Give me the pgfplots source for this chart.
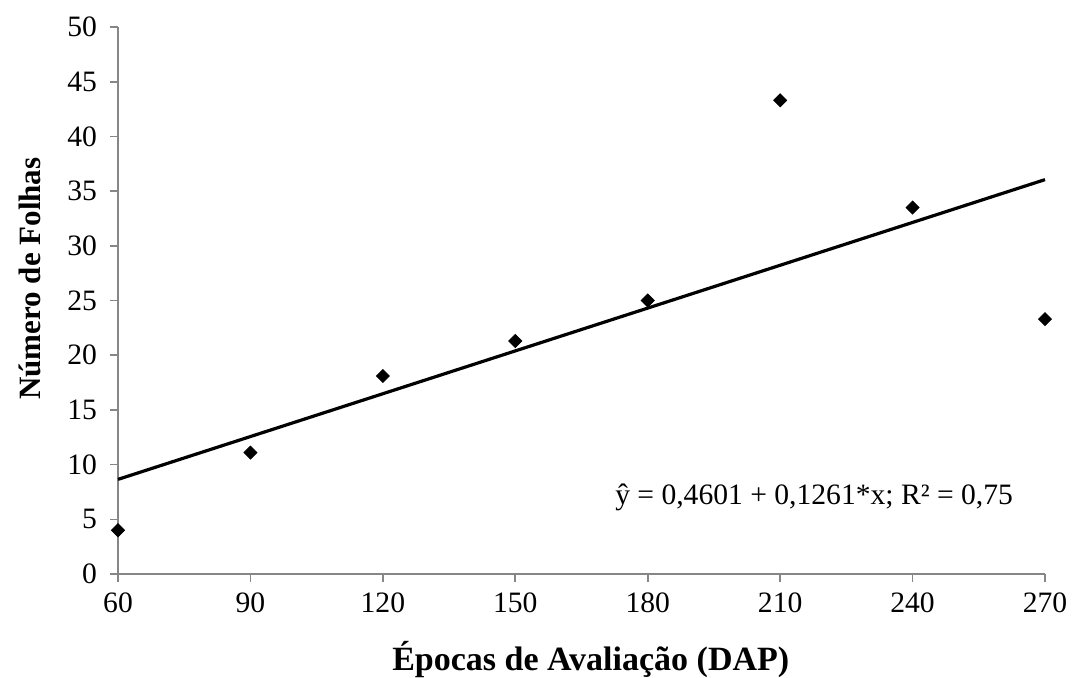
\documentclass[border=0pt]{standalone}
\usepackage{pgfplots}
\pgfplotsset{compat=1.18}
\usepackage{fontspec}
\setmainfont{Liberation Serif}
\definecolor{axgray}{HTML}{868686}
\begin{document}
\begin{tikzpicture}
\path[use as bounding box] (-59pt,-51.5pt) rectangle (478pt,287pt);
\begin{axis}[
  at={(0,0)}, anchor=south west,
  scale only axis, width=463.5pt, height=273.5pt,
  xmin=60, xmax=270, ymin=0, ymax=50,
  xtick={60,90,...,270}, ytick={0,5,...,50},
  axis x line*=bottom, axis y line*=left,
  axis line style={draw=axgray, line width=0.8pt, -},
  tick style={draw=axgray, line width=0.8pt},
  tick align=outside, major tick length=4pt,
  /pgf/number format/assume math mode=true,
  ticklabel style={font=\fontsize{14.8}{16}\selectfont},
  yticklabel style={xshift=-3pt},
  xticklabel style={yshift=-2pt},
  xlabel={\textbf{Épocas de Avaliação (DAP)}},
  ylabel={\textbf{Número de Folhas}},
  xlabel style={font=\fontsize{17}{19}\selectfont, at={(axis description cs:0.51,-0.157)}, anchor=center},
  ylabel style={font=\fontsize{15.5}{18}\selectfont, at={(axis description cs:-0.095,0.54)}, anchor=center, rotate=0},
  clip=false,
]
\addplot[only marks, mark=square*, mark size=2.3pt, mark options={rotate=45}, black] coordinates {
  (60,4.0) (90,11.1) (120,18.1) (150,21.3) (180,25.0) (210,43.3) (240,33.5) (270,23.3)
};
\addplot[black, line width=1.6pt] coordinates {(60,8.65) (270,36.05)};
\node[font=\fontsize{14.8}{16}\selectfont] at (axis cs:217.7,7.0) {ŷ = 0,4601 + 0,1261*x; R² = 0,75};
\end{axis}
\end{tikzpicture}
\end{document}
